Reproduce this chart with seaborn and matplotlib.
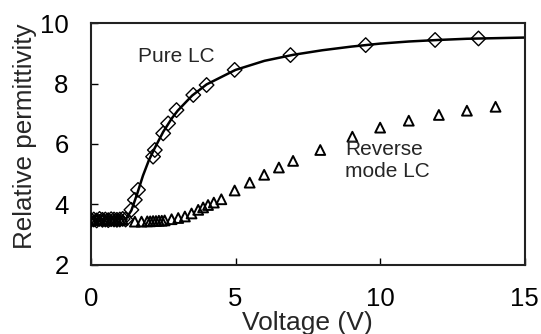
import matplotlib
matplotlib.use("Agg")
import matplotlib.pyplot as plt
import seaborn as sns
import numpy as np

sns.set_theme(style="white")
plt.rcParams['font.family'] = ['Liberation Sans', 'DejaVu Sans']

# Pure LC measured points (diamonds)
pure_v = [0.0, 0.1, 0.2, 0.3, 0.4, 0.5, 0.6, 0.7, 0.8, 0.9, 1.0, 1.1, 1.2,
          1.4, 1.52, 1.63, 2.15, 2.21, 2.5, 2.67, 2.96, 3.54, 4.0, 4.97,
          6.9, 9.5, 11.9, 13.4]
pure_eps = [3.48, 3.5, 3.47, 3.52, 3.49, 3.5, 3.48, 3.51, 3.5, 3.49, 3.5, 3.52, 3.5,
            3.82, 4.15, 4.48, 5.58, 5.8, 6.35, 6.68, 7.12, 7.62, 7.95, 8.45,
            8.94, 9.27, 9.44, 9.49]

# Pure LC fitted curve (solid line)
fit_v = [1.2, 1.4, 1.6, 1.8, 2.0, 2.2, 2.5, 2.8, 3.0, 3.5, 4.0, 5.0, 6.0, 7.0,
         8.0, 9.0, 10.0, 11.0, 12.0, 13.0, 14.0, 15.0]
fit_eps = [3.5, 3.8, 4.35, 4.95, 5.45, 5.85, 6.4, 6.85, 7.1, 7.6, 7.97, 8.45, 8.75, 8.95,
           9.1, 9.22, 9.32, 9.39, 9.44, 9.48, 9.5, 9.52]

# Reverse mode LC (triangles)
rev_v = [0.0, 0.1, 0.2, 0.3, 0.4, 0.5, 0.6, 0.7, 0.8, 0.9, 1.0, 1.1,
         1.52, 1.75, 1.95, 2.05, 2.15, 2.25, 2.35, 2.45, 2.55, 2.79, 3.02, 3.25,
         3.48, 3.71, 3.88, 4.05, 4.25, 4.51, 4.97, 5.49, 5.99, 6.5, 6.99, 7.93,
         9.04, 10.0, 10.99, 12.03, 13.0, 13.99]
rev_eps = [3.5, 3.48, 3.5, 3.49, 3.5, 3.48, 3.5, 3.49, 3.5, 3.48, 3.5, 3.49,
           3.43, 3.43, 3.44, 3.44, 3.45, 3.45, 3.46, 3.46, 3.47, 3.51, 3.55, 3.6,
           3.7, 3.82, 3.9, 3.98, 4.06, 4.17, 4.46, 4.72, 4.98, 5.22, 5.44, 5.8,
           6.24, 6.54, 6.77, 6.96, 7.1, 7.23]

fig = plt.figure(figsize=(5.41, 3.34), dpi=100)
ax = fig.add_axes([0.168, 0.207, 0.802, 0.724])

sns.lineplot(x=fit_v, y=fit_eps, ax=ax, color='black', linewidth=1.8, sort=False)
sns.scatterplot(x=rev_v, y=rev_eps, ax=ax, marker='^', s=50, facecolor='none',
                edgecolor='black', linewidth=1.4, zorder=3)
sns.scatterplot(x=pure_v, y=pure_eps, ax=ax, marker='D', s=55, facecolor='none',
                edgecolor='black', linewidth=1.0, zorder=4)

ax.set_xlim(0, 15)
ax.set_ylim(2, 10)
ax.set_xticks([0, 5, 10, 15])
ax.set_yticks([2, 4, 6, 8, 10])
ax.tick_params(direction='in', length=5, width=1, labelsize=18.5, pad=16,
               colors='black', bottom=True, left=True)
for s in ax.spines.values():
    s.set_color('#222222')
    s.set_linewidth(1.5)
ax.set_xlabel('Voltage (V)', fontsize=19, labelpad=0)
ax.set_ylabel('Relative permittivity', fontsize=18.7)
ax.yaxis.set_label_coords(-0.152, 0.533)
ax.yaxis.label.set_verticalalignment('center')

ax.text(1.63, 8.88, 'Pure LC', fontsize=15, va='center', ha='left')
ax.text(8.78, 5.45, 'Reverse\nmode LC', fontsize=15, va='center', ha='left',
        linespacing=1.25)

fig.savefig('out.png', dpi=100)
